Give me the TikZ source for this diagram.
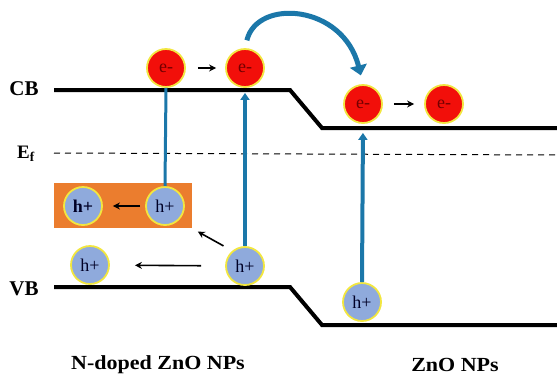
\documentclass[tikz,border=0pt]{standalone}
\usepackage{fontspec}
\setmainfont{Liberation Serif}
\newfontfamily\widefont[FakeStretch=1.1]{Liberation Serif}
\usetikzlibrary{arrows.meta}
\definecolor{elecred}{HTML}{F20F0A}
\definecolor{holeblue}{HTML}{8FAADC}
\definecolor{rimyellow}{HTML}{F2E640}
\definecolor{traporange}{HTML}{EB7D2E}
\definecolor{jumpblue}{HTML}{1B77A9}

\begin{document}
\begin{tikzpicture}[x=1pt,y=-1pt,
  elec/.style={draw=rimyellow, line width=1.8pt, shape=circle, fill=elecred, minimum size=38pt, inner sep=0pt, text=red!45!black, font=\fontsize{18}{18}\selectfont},
  hole/.style={draw=rimyellow, line width=1.8pt, shape=circle, fill=holeblue, minimum size=38pt, inner sep=0pt, text=black!85!blue, font=\fontsize{18}{18}\selectfont},
  band/.style={line width=4pt},
  jump/.style={jumpblue, line width=4pt},
  move/.style={-{Stealth[length=7pt,width=7pt]}, line width=1.6pt}]
\useasboundingbox (0,0) rectangle (557,376);

% band edges and Fermi level
\draw[band] (54,90) -- (290,90) -- (322,128) -- (557,128);
\draw[band] (54,287) -- (290,287) -- (322,325) -- (557,325);
\draw[dashed, dash pattern=on 6pt off 5pt, line width=1pt] (54,153) -- (557,155);

\node (cb) at (24,89) {\fontsize{21}{21}\selectfont\bfseries CB};
\node (ef) at (26,154) {\fontsize{19}{19}\selectfont\bfseries E\textsubscript{f}};
\node (vb) at (24,289) {\fontsize{21}{21}\selectfont\bfseries VB};

% trap level
\node [fill=traporange, minimum width=138pt, minimum height=45pt, inner sep=0pt] (trap) at (122.5,205.5) {};

% electrons
\node [elec] (e1) at (166,68) {e-};
\node [elec] (e2) at (245,68) {e-};
\node [elec] (e3) at (363,104) {e-};
\node [elec] (e4) at (444,104) {e-};

% holes
\node [hole] (h1) at (83,206) {\bfseries h+};
\node [hole] (h2) at (165,206) {h+};
\node [hole] (h3) at (245,266) {h+};
\node [hole] (h4) at (90,265) {h+};
\node [hole] (h5) at (362,302) {h+};

% excitation
\draw[jump, line width=3pt] (h2.north) -- (e1.south);
\draw[jump, -{Triangle[length=7pt,width=9pt]}, shorten >=5pt] (h3.north) -- (e2.south);
\draw[jump, -{Triangle[length=7pt,width=9pt]}, shorten >=9pt] (h5.north) -- (e3.south);

% transfer
\draw[jump, line width=5pt, -{Triangle[length=10pt,width=17pt]}, shorten <=8pt, shorten >=9pt]
  (e2.north) .. controls +(12,-50) and +(-20,-80) .. (e3.north);
\draw[move, shorten <=12pt, shorten >=9pt] (e1) -- (e2);
\draw[move, shorten <=11pt, shorten >=10pt] (e3) -- (e4);
\draw[move, line width=2.2pt, shorten <=5pt, shorten >=10pt] (h2) -- (h1);
\draw[move, shorten <=24pt, shorten >=25pt] (h3) -- (h4);
\draw[move, shorten <=10pt, shorten >=7pt] (h3.130) -- (trap.south east);

\node (ndoped) at (158,365) {\widefont\fontsize{20}{20}\selectfont\bfseries N-doped ZnO NPs};
\node (zno) at (455,365) {\widefont\fontsize{20}{20}\selectfont\bfseries ZnO NPs};
\end{tikzpicture}
\end{document}
